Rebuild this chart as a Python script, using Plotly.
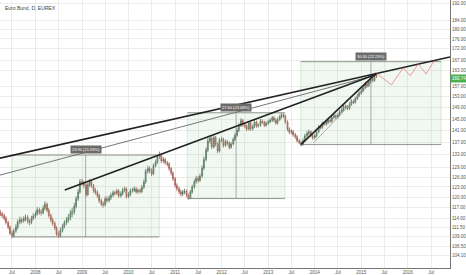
import math
import pandas as pd
import plotly.graph_objects as go

# ---------------- data (semi-monthly bars) ----------------
close = [
    115.2, 114.8, 114.0, 112.9, 111.6, 110.0, 109.3, 110.6, 111.6, 113.0, 113.6, 113.3, 113.9, 114.3, 113.2, 112.9, 114.0, 114.6,
    115.2, 116.4, 115.7, 115.6, 116.8, 118.0, 116.3, 114.8, 113.6, 112.6, 111.4, 109.8, 109.4, 110.8, 111.8, 112.8, 113.5, 114.2,
    115.4, 115.8, 117.4, 119.5, 121.5, 124.6,
    124.2, 123.5, 120.8, 123.7, 124.6, 123.4, 122.0, 121.4, 120.5, 119.0, 118.1, 117.8, 119.5, 119.0, 119.8, 120.6, 121.3, 121.2,
    121.8, 120.4, 121.0, 122.0, 122.4, 120.2,
    120.8, 121.9, 122.1, 122.4, 121.6, 122.0, 121.7, 122.9, 124.5, 127.8, 128.6, 128.0, 127.0, 129.5, 130.6, 132.3, 132.8, 131.0,
    131.4, 130.4, 130.0, 128.6, 127.2, 125.5,
    123.5, 122.5, 121.6, 120.9, 121.4, 121.8, 120.6, 119.8, 121.5, 123.0, 124.6, 125.6, 125.0, 126.3, 128.8, 131.5, 134.5, 137.5,
    138.4, 135.5, 138.6, 136.5, 134.2, 137.8,
    138.0, 136.0, 137.2, 136.8, 135.4, 136.5, 138.0, 139.4, 141.0, 142.8, 144.4, 143.0, 142.5, 141.5, 143.6, 141.6, 142.4, 143.9,
    142.6, 142.8, 144.2, 143.9, 142.8, 143.5,
    144.0, 144.5, 145.4, 144.6, 143.6, 144.8, 145.8, 146.5, 146.0, 144.0, 141.5, 140.5, 140.6, 139.6, 138.9, 137.6, 137.0, 136.3,
    137.6, 139.2, 140.0, 140.6, 139.4, 138.6,
    139.2, 140.6, 142.2, 142.0, 143.4, 143.2, 143.8, 144.6, 144.2, 145.6, 146.1, 145.7, 146.4, 147.6, 148.3, 149.6, 149.2, 148.8,
    150.2, 151.4, 151.0, 152.3, 153.4, 154.4,
    155.2, 156.4, 157.8, 157.2, 158.6, 159.8, 159.2, 160.8, 160.74,
]
high = [
    116.3, 115.8, 115.3, 114.6, 113.4, 112.1, 110.7, 111.2, 112.4, 113.7, 114.5, 114.2, 114.6, 115.1, 114.9, 113.8, 114.7, 115.4,
    116.0, 117.2, 117.0, 116.5, 117.6, 118.8, 118.5, 116.9, 115.3, 114.2, 113.2, 111.9, 110.5, 111.5, 112.5, 113.5, 114.3, 115.2,
    116.4, 117.0, 118.4, 120.3, 122.4, 125.4,
    125.5, 124.9, 124.0, 124.3, 125.4, 125.1, 123.9, 122.7, 122.0, 121.0, 119.6, 118.8, 120.2, 120.3, 120.5, 121.3, 122.0, 121.9,
    122.5, 122.3, 121.7, 122.8, 123.1, 122.9,
    121.5, 122.6, 122.8, 123.1, 123.0, 122.6, 122.6, 123.6, 125.3, 128.5, 129.5, 129.3, 128.7, 130.2, 131.4, 133.1, 134.0, 133.4,
    132.2, 132.0, 131.0, 130.6, 129.1, 127.7,
    126.0, 124.1, 123.1, 122.2, 122.1, 122.5, 122.3, 121.1, 122.1, 123.7, 125.3, 126.4, 126.3, 127.0, 129.6, 132.4, 135.4, 138.5,
    139.4, 139.0, 139.3, 139.2, 137.0, 138.5,
    138.9, 138.6, 137.9, 137.8, 137.3, 137.2, 138.7, 140.2, 141.8, 143.6, 145.3, 145.0, 143.8, 143.1, 144.3, 144.1, 143.1, 144.6,
    144.4, 143.5, 145.0, 144.8, 144.4, 144.2,
    144.7, 145.3, 146.1, 146.0, 145.2, 145.5, 146.5, 147.2, 147.0, 146.5, 144.5, 142.1, 141.4, 141.2, 140.2, 139.4, 138.2, 137.6,
    138.3, 139.9, 140.8, 141.3, 141.0, 140.0,
    139.9, 141.3, 142.9, 142.8, 144.1, 144.0, 144.5, 145.3, 145.1, 146.3, 146.8, 146.7, 147.1, 148.3, 149.0, 150.3, 150.2, 149.9,
    151.0, 152.2, 152.0, 153.0, 154.1, 155.2,
    156.0, 157.2, 158.6, 158.5, 159.4, 160.6, 160.5, 161.6, 161.9,
]
low = [
    114.6, 114.1, 113.4, 112.3, 111.0, 109.5, 108.6, 108.9, 110.1, 111.0, 112.4, 112.6, 112.8, 113.2, 112.6, 112.1, 112.4, 113.5,
    114.0, 114.8, 115.0, 114.8, 115.1, 116.2, 115.7, 114.2, 113.0, 112.0, 110.8, 109.2, 108.7, 108.9, 110.2, 111.3, 112.2, 112.8,
    113.4, 114.3, 115.0, 116.8, 118.9, 121.0,
    123.4, 122.6, 120.1, 120.3, 123.0, 122.7, 121.3, 120.7, 119.8, 118.3, 117.4, 117.0, 117.3, 118.4, 118.5, 119.2, 120.0, 120.5,
    120.6, 119.8, 119.9, 120.5, 121.4, 119.6,
    119.7, 120.3, 121.3, 121.5, 121.0, 121.0, 121.1, 121.2, 122.4, 124.0, 127.0, 127.2, 126.3, 126.6, 129.0, 130.1, 131.6, 130.3,
    130.4, 129.8, 129.3, 127.9, 126.5, 124.8,
    122.8, 121.8, 120.9, 120.2, 120.3, 120.8, 120.0, 119.3, 119.4, 121.0, 122.5, 124.0, 124.3, 124.5, 125.8, 128.2, 130.9, 133.8,
    136.6, 134.8, 135.0, 135.7, 133.5, 133.7,
    137.0, 135.3, 135.5, 136.1, 134.7, 134.9, 136.0, 137.5, 138.9, 140.5, 142.2, 142.3, 141.8, 140.8, 141.0, 140.9, 141.0, 141.9,
    142.0, 142.0, 142.3, 143.3, 142.2, 142.3,
    142.9, 143.5, 144.0, 143.9, 143.0, 143.1, 144.3, 145.2, 145.3, 143.3, 140.8, 139.8, 139.7, 138.9, 138.2, 137.0, 136.4, 135.7,
    135.9, 137.1, 138.6, 139.4, 138.8, 137.9,
    138.0, 138.7, 140.1, 141.4, 141.5, 142.6, 142.7, 143.2, 143.6, 143.7, 145.0, 145.0, 145.1, 145.9, 147.0, 147.8, 148.5, 148.1,
    148.2, 149.7, 150.3, 150.5, 151.8, 152.9,
    153.8, 154.7, 155.9, 156.5, 156.7, 158.0, 158.5, 158.7, 160.1,
]
first_open = 115.6
start_date = "2007-04-01"
last_price = 160.74

# trend lines drawn on the chart (dates, prices)
top_line_d, top_line_p = ["2007-03-29", "2016-11-27"], [131.9, 168.5]
mid_line_d, mid_line_p = ["2007-03-29", "2015-04-29"], [126.6, 161.3]
low_line_d, low_line_p = ["2008-08-18", "2015-04-29"], [122.1, 161.6]
steep_line_d, steep_line_p = ["2013-09-13", "2015-04-29"], [136.3, 162.0]
chan_line_d, chan_line_p = ["2013-12-23", "2015-04-21"], [136.9, 160.1]

# projected path (red)
proj_d = ["2015-04-29", "2015-08-25", "2015-11-26", "2016-01-20", "2016-03-23", "2016-05-24", "2016-07-26"]
proj_p = [162.0, 157.5, 164.1, 161.0, 165.6, 161.7, 167.0]

# date & price range boxes
ranges = [
    (["2007-07-01", "2010-08-30"], [109.0, 132.9]),
    (["2011-04-06", "2013-05-12"], [119.6, 147.2]),
    (["2013-09-13", "2016-09-18"], [136.3, 166.6]),
]

ytick_vals = [104.10, 106.50, 109.00, 111.50, 114.00, 117.00, 120.00, 123.00, 126.00, 129.00, 133.00, 137.00,
              141.00, 145.00, 149.00, 153.00, 157.00, 163.00, 167.00, 172.00, 176.00, 180.00, 184.00, 192.00]
xtick_dates = ["2007-07-01", "2008-01-01", "2008-07-01", "2009-01-01", "2009-07-01", "2010-01-01", "2010-07-01",
               "2011-01-01", "2011-07-01", "2012-01-01", "2012-07-01", "2013-01-01", "2013-07-01", "2014-01-01",
               "2014-07-01", "2015-01-01", "2015-07-01", "2016-01-01", "2016-07-01"]
xtick_text = ["Jul", "2008", "Jul", "2009", "Jul", "2010", "Jul", "2011", "Jul", "2012", "Jul", "2013", "Jul",
              "2014", "Jul", "2015", "Jul", "2016", "Jul"]

x_range = ["2007-03-29", "2016-11-27"]
y_range = [101.1, 193.4]

# ---------------- figure ----------------
dates = pd.date_range(start_date, periods=len(close), freq="SMS")
opens = [first_open] + close[:-1]

fig = go.Figure()

# range boxes
for (dd, pp) in ranges:
    fig.add_trace(go.Scatter(x=[dd[0], dd[1], dd[1], dd[0], dd[0]], y=[pp[0], pp[0], pp[1], pp[1], pp[0]],
                             mode="lines", fill="toself", fillcolor="rgba(120,190,120,0.10)",
                             line=dict(color="rgba(150,200,150,0.35)", width=1), hoverinfo="skip", showlegend=False))
    fig.add_trace(go.Scatter(x=[dd[0], dd[1], None, dd[0], dd[1]], y=[pp[0], pp[0], None, pp[1], pp[1]],
                             mode="lines", line=dict(color="rgba(120,120,120,0.7)", width=1),
                             hoverinfo="skip", showlegend=False))
    mid = pd.Timestamp(dd[0]) + (pd.Timestamp(dd[1]) - pd.Timestamp(dd[0])) / 2
    fig.add_trace(go.Scatter(x=[mid, mid], y=pp, mode="lines", line=dict(color="rgba(120,120,120,0.6)", width=1),
                             hoverinfo="skip", showlegend=False))
    diff = pp[1] - pp[0]
    fig.add_annotation(x=mid, y=math.log10(pp[1]), text=f"{diff:.2f} ({diff / pp[0] * 100:.2f}%)",
                       showarrow=False, yanchor="bottom", yshift=1, bgcolor="#6b6b6b",
                       font=dict(size=4, color="white", family="Arial"), borderpad=1)

# candles
fig.add_trace(go.Candlestick(x=dates, open=opens, high=high, low=low, close=close,
                             increasing=dict(line=dict(color="#55705e", width=0.8), fillcolor="#9cb8a4"),
                             decreasing=dict(line=dict(color="#a35a50", width=0.8), fillcolor="#d99a90"),
                             whiskerwidth=0, showlegend=False))

# trend lines
for d, p, w, c in [(top_line_d, top_line_p, 1.6, "#222"), (mid_line_d, mid_line_p, 1, "#777"),
                   (low_line_d, low_line_p, 1.6, "#222"), (steep_line_d, steep_line_p, 1.6, "#222"),
                   (chan_line_d, chan_line_p, 0.8, "#999")]:
    fig.add_trace(go.Scatter(x=d, y=p, mode="lines", line=dict(color=c, width=w), hoverinfo="skip", showlegend=False))

fig.add_trace(go.Scatter(x=proj_d, y=proj_p, mode="lines", line=dict(color="rgba(230,100,100,0.8)", width=0.8),
                         hoverinfo="skip", showlegend=False))

# title & price tag
fig.add_annotation(x=0.006, y=0.99, xref="paper", yref="paper", text="Euro Bund, D, EUREX", showarrow=False,
                   xanchor="left", yanchor="top", font=dict(size=5, color="#444", family="Arial"))
fig.add_annotation(x=1, y=math.log10(last_price), xref="paper", yref="y", text=f"{last_price:.2f}", showarrow=False,
                   xanchor="left", yshift=-2, bgcolor="#4caf50", font=dict(size=4.5, color="white", family="Arial"),
                   borderpad=1)

fig.update_layout(
    width=466, height=275, margin=dict(l=0, r=14, t=0, b=7),
    paper_bgcolor="white", plot_bgcolor="white",
    xaxis=dict(type="date", range=x_range, tickvals=xtick_dates, ticktext=xtick_text, showgrid=True,
               gridcolor="#ececec", gridwidth=1, showline=True, linecolor="#777", linewidth=1, ticks="",
               tickfont=dict(size=4.5, color="#555", family="Arial"), rangeslider=dict(visible=False), zeroline=False),
    yaxis=dict(type="log", side="right", range=[math.log10(y_range[0]), math.log10(y_range[1])],
               tickvals=ytick_vals, ticktext=[f"{v:.2f}" for v in ytick_vals], showgrid=True, gridcolor="#ececec",
               showline=True, linecolor="#777", linewidth=1, ticks="", zeroline=False,
               tickfont=dict(size=4.5, color="#555", family="Arial")),
    font=dict(family="Arial"),
)

fig.write_html("out.html")
